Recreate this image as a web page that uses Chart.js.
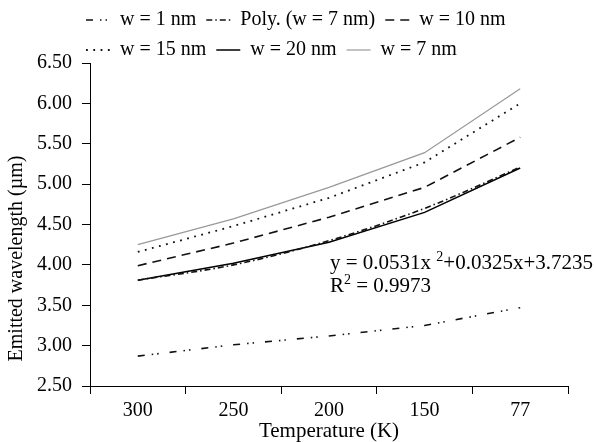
<!DOCTYPE html>
<html>
<head>
<meta charset="utf-8">
<script src="https://cdn.jsdelivr.net/npm/chart.js@4.4.1/dist/chart.umd.min.js"></script>
<style>
  html, body { margin: 0; padding: 0; background: #fff; }
  #wrap { width: 596px; height: 442px; }
</style>
</head>
<body>
<div id="wrap"><canvas id="chart"></canvas></div>
<script>
// categorias e valores
const temperatures = ['300', '250', '200', '150', '77'];
const w1 = [2.87, 3.01, 3.12, 3.25, 3.47];
const polyW7 = [3.81, 4.00, 4.30, 4.70, 5.21];
const w10 = [3.99, 4.27, 4.59, 4.96, 5.58];
const w15 = [4.16, 4.48, 4.83, 5.27, 6.00];
const w20 = [3.81, 4.02, 4.28, 4.65, 5.20];
const w7 = [4.25, 4.57, 4.96, 5.39, 6.18];
const yTicks = [2.5, 3.0, 3.5, 4.0, 4.5, 5.0, 5.5, 6.0, 6.5];

const serif = '"Liberation Serif", "Times New Roman", serif';
Chart.defaults.font.family = serif;
Chart.defaults.color = '#000';

// título do eixo y e equação da linha de tendência
const extraText = {
    id: 'extraText',
    afterDraw(chart) {
        const ctx = chart.ctx;
        const area = chart.chartArea;
        ctx.save();
        ctx.fillStyle = '#000';

        ctx.save();
        ctx.translate(17, (area.top + area.bottom) / 2 + 34);
        ctx.rotate(-Math.PI / 2);
        ctx.font = '20px ' + serif;
        ctx.textAlign = 'center';
        ctx.textBaseline = 'middle';
        ctx.fillText('Emitted wavelength (µm)', 0, 0);
        ctx.restore();

        ctx.textAlign = 'left';
        ctx.textBaseline = 'alphabetic';
        let x = area.left + 240;
        let y = area.top + 206;
        ctx.font = '21px ' + serif;
        ctx.fillText('y = 0.0531x ', x, y);
        x += ctx.measureText('y = 0.0531x ').width;
        ctx.font = '14px ' + serif;
        ctx.fillText('2', x, y - 8);
        x += ctx.measureText('2').width;
        ctx.font = '21px ' + serif;
        ctx.fillText('+0.0325x+3.7235', x, y);

        x = area.left + 240;
        y += 23;
        ctx.fillText('R', x, y);
        x += ctx.measureText('R').width;
        ctx.font = '14px ' + serif;
        ctx.fillText('2', x, y - 8);
        x += ctx.measureText('2').width;
        ctx.font = '21px ' + serif;
        ctx.fillText(' = 0.9973', x, y);
        ctx.restore();
    }
};

// legenda um pouco mais à esquerda e colada ao gráfico
const legendTweak = {
    id: 'legendTweak',
    afterInit(chart) {
        const legend = chart.legend;
        const fit = legend.fit;
        legend.fit = function () {
            fit.call(this);
            this.height -= 7;
        };
    },
    afterUpdate(chart) {
        chart.legend.left -= 14;
    }
};

function serie(label, data, color, width, dash, extra) {
    return Object.assign({
        label: label,
        data: data,
        borderColor: color,
        backgroundColor: color,
        borderWidth: width,
        borderDash: dash,
        pointRadius: 0,
        fill: false,
        tension: 0
    }, extra || {});
}

const ctx = document.getElementById('chart').getContext('2d');
const chart = new Chart(ctx, {
    type: 'line',
    data: {
        labels: temperatures,
        datasets: [
            serie('w = 1 nm', w1, '#111', 1.6, [7, 7, 1.5, 4, 1.5, 11]),
            serie('Poly. (w = 7 nm)', polyW7, '#111', 1.6, [6, 3, 1.5, 3], { cubicInterpolationMode: 'monotone' }),
            serie('w = 10 nm', w10, '#111', 1.6, [9, 6]),
            serie('w = 15 nm', w15, '#111', 1.8, [1.8, 5.5]),
            serie('w = 20 nm', w20, '#000', 1.5, []),
            serie('w = 7 nm', w7, '#999', 1.2, [])
        ]
    },
    options: {
        responsive: true,
        maintainAspectRatio: false,
        animation: false,
        layout: {
            padding: { left: 27, right: 28, top: 0, bottom: 0 }
        },
        plugins: {
            tooltip: { enabled: false },
            legend: {
                position: 'top',
                align: 'start',
                fullSize: false,
                labels: {
                    usePointStyle: true,
                    pointStyleWidth: 24,
                    boxWidth: 24,
                    boxHeight: 20,
                    padding: 10,
                    color: '#000',
                    font: { size: 20, family: serif },
                    generateLabels(chart) {
                        const items = Chart.defaults.plugins.legend.labels.generateLabels(chart);
                        items.forEach(item => {
                            const ds = chart.data.datasets[item.datasetIndex];
                            item.lineDash = ds.borderDash;
                            item.lineWidth = ds.borderWidth;
                            item.strokeStyle = ds.borderColor;
                            item.pointStyle = 'line';
                        });
                        return items;
                    }
                }
            }
        },
        scales: {
            x: {
                type: 'category',
                offset: true,
                grid: {
                    offset: true,
                    drawOnChartArea: false,
                    tickLength: 8,
                    color: '#000'
                },
                border: { color: '#000', width: 1 },
                ticks: {
                    padding: 5,
                    color: '#000',
                    font: { size: 20, family: serif }
                },
                title: {
                    display: true,
                    text: 'Temperature (K)',
                    color: '#000',
                    font: { size: 21, family: serif, lineHeight: 1 },
                    padding: { top: -7, bottom: 0 }
                }
            },
            y: {
                min: 2.5,
                max: 6.5,
                afterBuildTicks: axis => {
                    axis.ticks = yTicks.map(v => ({ value: v }));
                },
                grid: {
                    drawOnChartArea: false,
                    tickLength: 8,
                    color: '#000'
                },
                border: { color: '#000', width: 1 },
                ticks: {
                    padding: 10,
                    color: '#000',
                    font: { size: 20, family: serif },
                    callback: v => Number(v).toFixed(2)
                }
            }
        }
    },
    plugins: [extraText, legendTweak]
});
</script>
</body>
</html>
